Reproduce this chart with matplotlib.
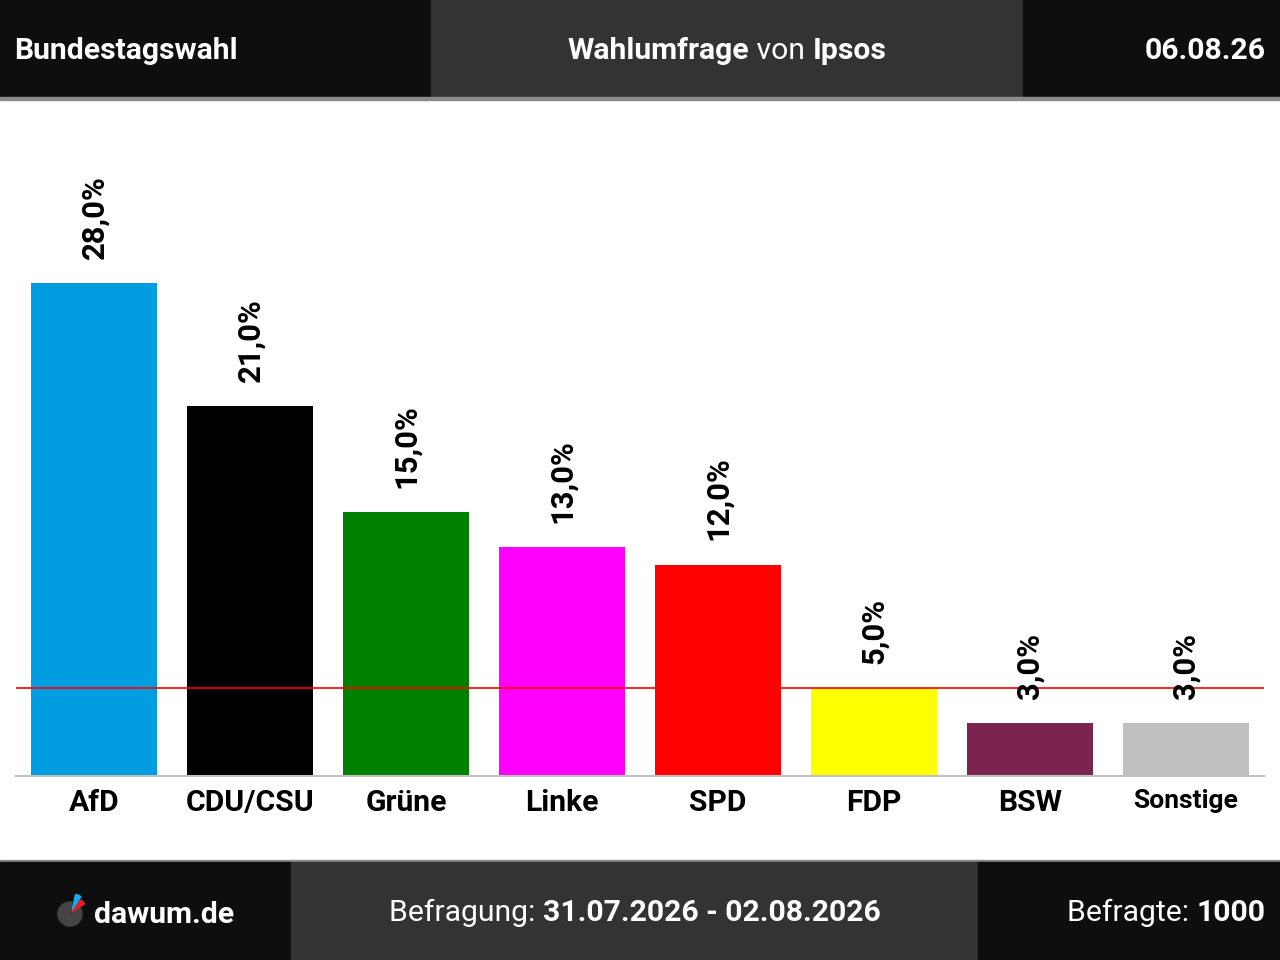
import matplotlib
matplotlib.use("Agg")
import matplotlib.pyplot as plt
from matplotlib.patches import Rectangle, Wedge

plt.rcParams["font.family"] = ["Roboto", "DejaVu Sans"]

parties = ["AfD", "CDU/CSU", "Grüne", "Linke", "SPD", "FDP", "BSW", "Sonstige"]
values = [28.0, 21.0, 15.0, 13.0, 12.0, 5.0, 3.0, 3.0]
colors = ["#009ee0", "#000000", "#008000", "#ff00ff", "#ff0000", "#ffff00", "#7b2450", "#c0c0c0"]
threshold = 5.0

title_left = "Bundestagswahl"
title_mid = [("Wahlumfrage", "bold"), (" von ", "normal"), ("Ipsos", "bold")]
title_date = "06.08.26"
footer_mid = [("Befragung: ", "normal"), ("31.07.2026 - 02.08.2026", "bold")]
footer_right = [("Befragte: ", "normal"), ("1000", "bold")]
site = "dawum.de"

W, H = 1280, 960
DARK = "#0e0e0e"
MID = "#333333"


def fx(x):
    return x / W


def fy(y):
    return 1 - y / H


fig = plt.figure(figsize=(W / 100, H / 100), dpi=100)
fig.patch.set_facecolor("white")


def box(x0, y0, x1, y1, color):
    fig.patches.append(Rectangle((fx(x0), fy(y1)), fx(x1 - x0), (y1 - y0) / H,
                                 transform=fig.transFigure, color=color, zorder=0))


# header and footer bands
box(0, 0, 431, 97, DARK)
box(431, 0, 1023, 97, MID)
box(1023, 0, W, 97, DARK)
box(0, 97, W, 100, "#8a8a8a")
box(0, 860, W, 862, "#8a8a8a")
box(0, 862, 291, H, DARK)
box(291, 862, 978, H, MID)
box(978, 862, W, H, DARK)


def rich_text(x, y, parts, ha="left", size=21.7):
    renderer = fig.canvas.get_renderer()
    texts = []
    for s, w in parts:
        t = fig.text(0, fy(y), s, color="white", fontsize=size, fontweight=w,
                     va="center", ha="left")
        texts.append(t)
    widths = [t.get_window_extent(renderer).width for t in texts]
    total = sum(widths)
    start = {"left": x, "center": x - total / 2, "right": x - total}[ha]
    for t, w in zip(texts, widths):
        t.set_x(fx(start))
        start += w


rich_text(14, 51, [(title_left, "bold")])
rich_text(727, 51, title_mid, ha="center")
rich_text(1266, 51, [(title_date, "bold")], ha="right")
rich_text(635, 913, footer_mid, ha="center")
rich_text(1266, 913, footer_right, ha="right")
rich_text(94, 915, [(site, "bold")])

# logo (pixel coordinates, origin bottom-left)
fig.patches.append(Wedge((70, H - 914), 12, 80, 390, color="#444444",
                         transform=None, zorder=2))
fig.patches.append(Wedge((72, H - 911), 17, 58, 78, color="#1ea7e8",
                         transform=None, zorder=2))
fig.patches.append(Wedge((72, H - 912), 15, 33, 53, color="#e8202a",
                         transform=None, zorder=2))

# chart
ax = fig.add_axes([fx(16), fy(776), fx(1248), 676 / H])
x = range(len(parties))
ax.bar(x, values, width=126 / 156, color=colors, zorder=2)
ax.axhline(threshold, color="#ff0000", linewidth=1.2, zorder=3)
ax.set_xlim(-0.5, len(parties) - 0.5)
ax.set_ylim(0, 676 / (493 / 28))
for i, v in enumerate(values):
    ax.annotate(f"{v:.1f}%".replace(".", ","), (i, v), xytext=(0, 17.5),
                textcoords="offset points", rotation=90, ha="center", va="bottom",
                fontsize=22.3, fontweight="bold", zorder=4)
ax.set_xticks(list(x))
ax.set_xticklabels(parties)
for lbl in ax.get_xticklabels():
    lbl.set_fontweight("bold")
    lbl.set_fontsize(19 if lbl.get_text() == "Sonstige" else 21.7)
ax.tick_params(axis="x", length=0, pad=9.5)
ax.set_yticks([])
for s in ["left", "right", "top"]:
    ax.spines[s].set_visible(False)
ax.spines["bottom"].set_color("#c0c0c0")
ax.spines["bottom"].set_linewidth(1.5)
ax.patch.set_alpha(0)

fig.savefig("out.png", dpi=100)
